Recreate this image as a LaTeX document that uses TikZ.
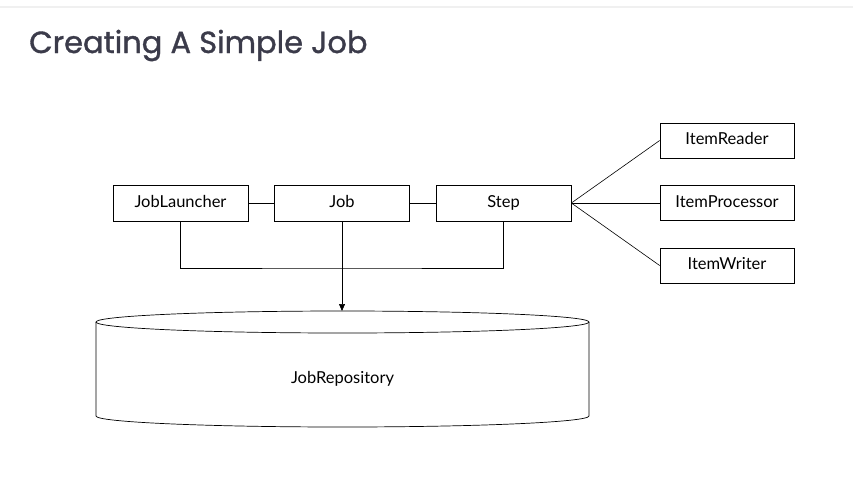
\documentclass[tikz,border=0pt]{standalone}
\usepackage{fontspec}
\setmainfont{Lato}
\newfontfamily\titlefont{Poppins}[FakeBold=1.2]
\usetikzlibrary{arrows.meta}
\definecolor{titlegray}{HTML}{3B3B4A}
\tikzset{
  box/.style={draw, line width=0.7pt, minimum width=135pt, minimum height=36pt,
    inner sep=0pt, text height=11pt, text depth=3pt,
    font=\fontsize{16.5}{18}\selectfont},
  link/.style={line width=0.6pt}
}
\begin{document}
\begin{tikzpicture}[x=1pt,y=-1pt]
    \useasboundingbox (0,0) rectangle (853,477);
    \draw[gray!12, line width=1.5pt] (0,7) -- (853,7);
    \node[anchor=base west, text=titlegray, inner sep=0pt,
      font=\titlefont\fontsize{30.5}{34}\selectfont] (title) at (29,53) {Creating A Simple Job};
    % main chain
    \node[box] (launcher) at (180.5,203) {JobLauncher};
    \node[box] (job) at (342,203) {Job};
    \node[box] (step) at (503.5,203) {Step};
    \draw[link] (launcher)--(job);
    \draw[link] (job)--(step);
    % step parts
    \node[box, minimum width=134pt, minimum height=35pt] (reader) at (727,140.5) {ItemReader};
    \node[box, minimum width=134pt, minimum height=35pt] (processor) at (727,203) {ItemProcessor};
    \node[box, minimum width=134pt, minimum height=35pt] (writer) at (727,265.5) {ItemWriter};
    \draw[link] (step.east)--(reader.west);
    \draw[link] (step.east)--(processor.west);
    \draw[link] (step.east)--(writer.west);
    % repository
    \draw[line width=0.7pt, fill=white] (96,322) -- (96,416)
      arc[start angle=180, end angle=0, x radius=246.5, y radius=11] -- (589,322);
    \draw[line width=0.7pt] (342.5,322) ellipse [x radius=246.5, y radius=11];
    \coordinate (repotop) at (342,311);
    \node[font=\fontsize{16.5}{18}\selectfont] (repo) at (342.5,379) {JobRepository};
    \coordinate (joint) at (342,268);
    \draw[link] (launcher.south) |- (joint) -| (step.south);
    \draw[link, -{Triangle[length=7pt,width=6pt]}] (job.south)--(repotop);
\end{tikzpicture}
\end{document}
